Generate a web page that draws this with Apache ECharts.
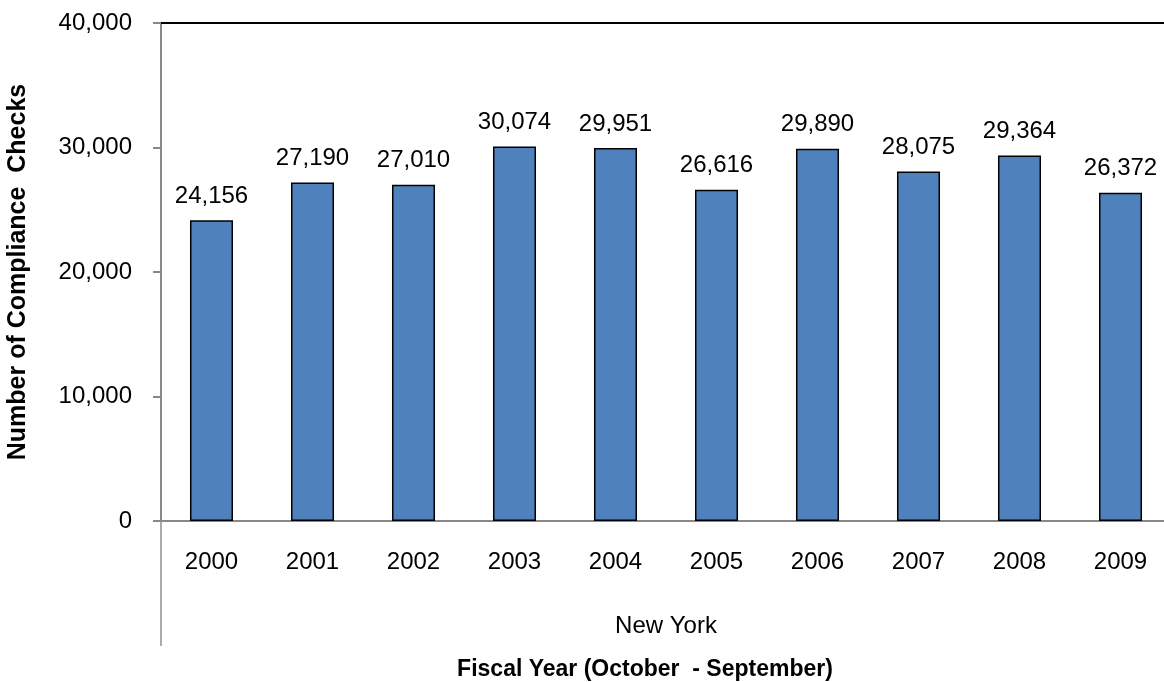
<!DOCTYPE html>
<html><head><meta charset="utf-8">
<script src="https://cdn.jsdelivr.net/npm/echarts@6/dist/echarts.min.js"></script>
<style>html,body{margin:0;padding:0;background:#fff}#c{width:1164px;height:682px}</style>
</head><body><div id="c"></div>
<script>
const years = ['2000','2001','2002','2003','2004','2005','2006','2007','2008','2009'];
const checks = [24156, 27190, 27010, 30074, 29951, 26616, 29890, 28075, 29364, 26372];
const groupLabel = 'New York';
const yTitle = 'Number of Compliance  Checks';
const xTitle = 'Fiscal Year (October  - September)';

const chart = echarts.init(document.getElementById('c'));
const font = 'Liberation Sans, Arial, sans-serif';
chart.setOption({
  animation: false,
  textStyle: {fontFamily: font},
  grid: {left: 161, right: -7, top: 23, bottom: 161, containLabel: false, outerBoundsMode: 'none'},
  title: {text: xTitle, left: 640, top: 653, textAlign: 'center',
    textStyle: {fontSize: 23, fontWeight: 'bold', color: '#000', fontFamily: font}},
  xAxis: [{
    type: 'category', data: years, position: 'bottom',
    axisLine: {lineStyle: {color: '#888', width: 2}},
    axisTick: {show: false},
    axisLabel: {fontSize: 24, color: '#000', margin: 29, fontFamily: font},
    name: groupLabel, nameLocation: 'middle', nameGap: 93,
    nameTextStyle: {fontSize: 24, color: '#000', fontFamily: font}
  }, {
    type: 'category', data: years, position: 'top',
    axisLine: {lineStyle: {color: '#000', width: 2}},
    axisTick: {show: false}, axisLabel: {show: false}
  }],
  yAxis: {
    type: 'value', min: 0, max: 40000, interval: 10000,
    axisLine: {show: true, lineStyle: {color: '#888', width: 2}},
    axisTick: {show: true, length: 8, lineStyle: {color: '#888', width: 2}},
    splitLine: {show: false},
    axisLabel: {fontSize: 24, color: '#000', margin: 29, fontFamily: font,
      formatter: v => v.toLocaleString('en-US')},
    name: yTitle, nameLocation: 'middle', nameGap: 130, nameRotate: 90,
    nameTextStyle: {fontSize: 25, fontWeight: 'bold', color: '#000', fontFamily: font}
  },
  series: [{
    type: 'bar', data: checks, barWidth: '42.6%',
    itemStyle: {color: '#4F81BD', borderColor: '#000', borderWidth: 1.5},
    label: {show: true, position: 'top', distance: 12, fontSize: 24, color: '#000', fontFamily: font,
      formatter: p => p.value.toLocaleString('en-US')}
  }],
  graphic: [{type: 'line', shape: {x1: 161, y1: 521, x2: 161, y2: 646},
    style: {stroke: '#aaa', lineWidth: 2}}]
});
</script></body></html>
